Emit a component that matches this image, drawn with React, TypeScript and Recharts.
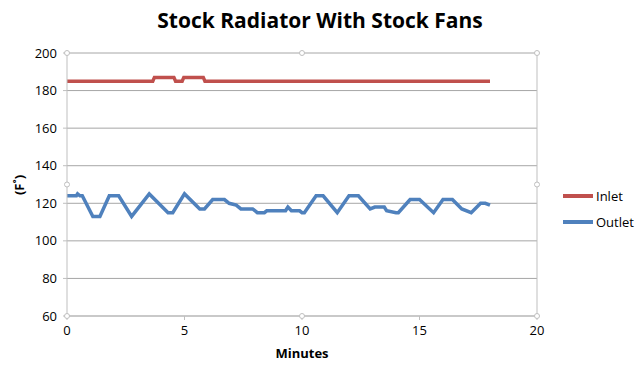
import React from "react";
import {
  LineChart,
  Line,
  XAxis,
  YAxis,
  CartesianGrid,
  ReferenceLine,
  ReferenceDot,
} from "recharts";

// minutes / degrees F
const inletTimes = [0, 3.65, 3.72, 4.55, 4.62, 4.9, 4.97, 5.8, 5.87, 18];
const inletTemps = [185, 185, 187, 187, 185, 185, 187, 187, 185, 185];

const outletTimes = [
  0, 0.4, 0.45, 0.55, 0.65, 1.1, 1.4, 1.8, 2.2, 2.75, 3.5, 4.3, 4.5, 5.0,
  5.65, 5.85, 6.2, 6.7, 6.9, 7.2, 7.4, 7.9, 8.1, 8.4, 8.5, 9.3, 9.4, 9.55,
  9.9, 10.0, 10.1, 10.6, 10.9, 11.5, 12.0, 12.4, 12.9, 13.1, 13.5, 13.6,
  14.0, 14.1, 14.6, 15.0, 15.6, 16.0, 16.4, 16.8, 17.2, 17.6, 17.8, 18.0,
];
const outletTemps = [
  124, 124, 125, 124, 124, 113, 113, 124, 124, 113, 125, 115, 115, 125,
  117, 117, 122, 122, 120, 119, 117, 117, 115, 115, 116, 116, 118, 116,
  116, 115, 115, 124, 124, 115, 124, 124, 117, 118, 118, 116,
  115, 115, 122, 122, 115, 122, 122, 117, 115, 120, 120, 119,
];

const xTicks = [0, 5, 10, 15, 20];
const yTicks = [60, 80, 100, 120, 140, 160, 180, 200];

const inlet = inletTimes.map((t, i) => ({ t, v: inletTemps[i] }));
const outlet = outletTimes.map((t, i) => ({ t, v: outletTemps[i] }));

const INLET = "#c0504d";
const OUTLET = "#4f81bd";
const FONT = "'Open Sans', 'Liberation Sans', sans-serif";

const handles = [
  [0, 200], [10, 200], [20, 200],
  [0, 130], [20, 130],
  [0, 60], [10, 60], [20, 60],
];

export default function App() {
  return (
    <div
      style={{
        position: "absolute",
        left: 0,
        top: 0,
        width: 640,
        height: 377,
        background: "#fff",
        fontFamily: FONT,
      }}
    >
      <div
        style={{
          position: "absolute",
          top: 6,
          width: 640,
          textAlign: "center",
          fontSize: 21,
          fontWeight: 700,
          color: "#000",
        }}
      >
        Stock Radiator With Stock Fans
      </div>

      <LineChart
        width={640}
        height={377}
        margin={{ top: 53, right: 103, bottom: 31, left: 20 }}
      >
        <CartesianGrid horizontal vertical={false} stroke="#a6a6a6" />
        <XAxis
          type="number"
          dataKey="t"
          domain={[0, 20]}
          ticks={xTicks}
          allowDuplicatedCategory={false}
          height={30}
          stroke="#bfbfbf"
          tickSize={4}
          tickMargin={6}
          tick={{ fontSize: 13, fill: "#000", fontFamily: FONT }}
        />
        <YAxis
          type="number"
          domain={[60, 200]}
          ticks={yTicks}
          width={47}
          stroke="#bfbfbf"
          tickSize={4}
          tickMargin={6}
          tick={{ fontSize: 13, fill: "#000", fontFamily: FONT }}
        />
        <ReferenceLine x={20} stroke="#bfbfbf" />
        <Line
          data={inlet}
          dataKey="v"
          type="linear"
          stroke={INLET}
          strokeWidth={3.5}
          dot={false}
          isAnimationActive={false}
        />
        <Line
          data={outlet}
          dataKey="v"
          type="linear"
          stroke={OUTLET}
          strokeWidth={3.5}
          dot={false}
          isAnimationActive={false}
        />
        {handles.map(([x, y], i) => (
          <ReferenceDot
            key={i}
            x={x}
            y={y}
            r={2.5}
            fill="#fff"
            stroke="#bfbfbf"
            strokeWidth={1}
          />
        ))}
      </LineChart>

      <div
        style={{
          position: "absolute",
          left: 9,
          top: 185,
          transform: "translate(0, -50%) rotate(-90deg)",
          fontSize: 13,
          fontWeight: 700,
        }}
      >
        (F˚)
      </div>
      <div
        style={{
          position: "absolute",
          top: 344,
          left: 67,
          width: 470,
          textAlign: "center",
          fontSize: 13,
          fontWeight: 700,
        }}
      >
        Minutes
      </div>

      {[
        { name: "Inlet", color: INLET, y: 196 },
        { name: "Outlet", color: OUTLET, y: 222 },
      ].map((s) => (
        <div
          key={s.name}
          style={{
            position: "absolute",
            left: 563,
            top: s.y - 9,
            height: 18,
            display: "flex",
            alignItems: "center",
            fontSize: 13,
          }}
        >
          <span
            style={{
              display: "inline-block",
              width: 30,
              height: 3.5,
              background: s.color,
              marginRight: 3,
            }}
          />
          {s.name}
        </div>
      ))}
    </div>
  );
}
